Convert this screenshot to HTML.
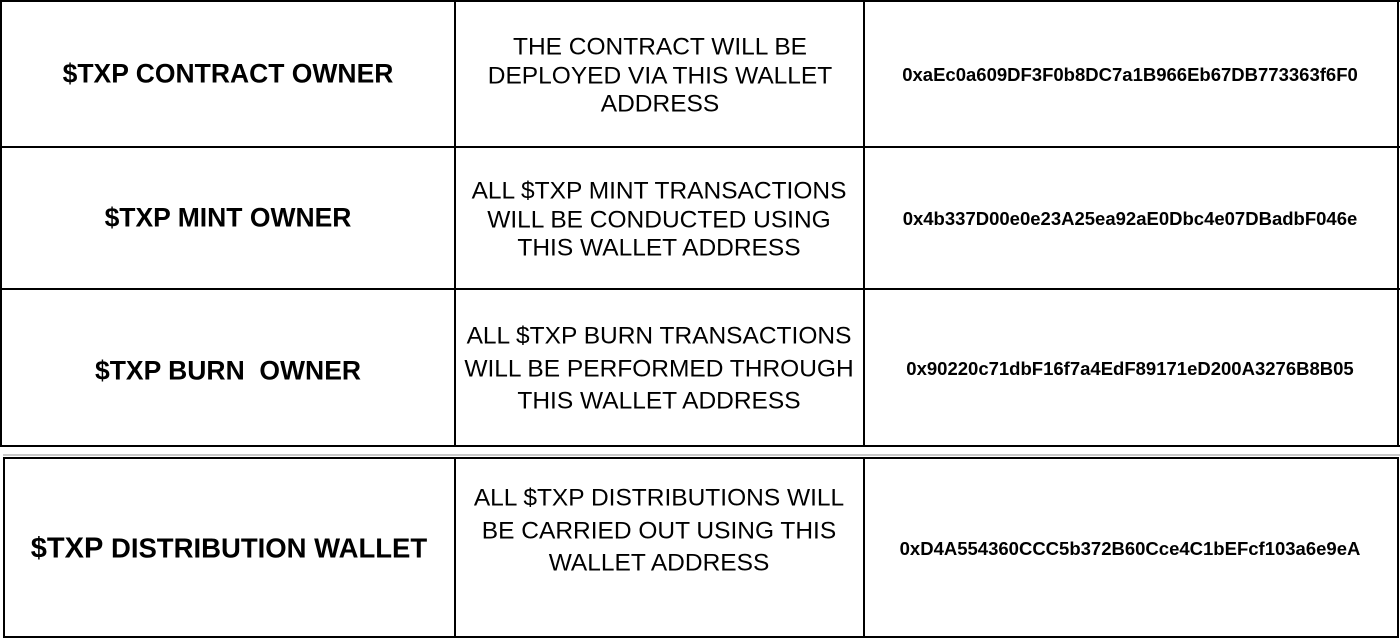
<!DOCTYPE html>
<html><head><meta charset="utf-8"><style>
html,body{margin:0;padding:0;background:#fff;}
body{width:1400px;height:638px;position:relative;overflow:hidden;font-family:"Liberation Sans",Arial,sans-serif;color:#000;}
.l{position:absolute;background:#000;}
.t{position:absolute;transform:translate(-50%,-50%);text-align:center;white-space:nowrap;}
.h{font-weight:bold;font-size:26.5px;}
.m{font-size:24.5px;}
.a{font-weight:bold;font-size:18.5px;}
</style></head><body>
<div class="l" style="left:0;top:0;width:1400px;height:2px"></div>
<div class="l" style="left:0;top:146px;width:1400px;height:2px"></div>
<div class="l" style="left:0;top:288px;width:1400px;height:2px"></div>
<div class="l" style="left:0;top:445px;width:1400px;height:2px"></div>
<div class="l" style="left:0;top:0;width:2px;height:447px"></div>
<div class="l" style="left:454px;top:0;width:2px;height:447px"></div>
<div class="l" style="left:863px;top:0;width:2px;height:447px"></div>
<div class="l" style="left:1397px;top:0;width:2px;height:447px"></div>
<div class="l" style="left:3px;top:454px;width:1397px;height:2px;background:#c8c8c8"></div>
<div class="l" style="left:3px;top:457px;width:1396px;height:2px"></div>
<div class="l" style="left:3px;top:636px;width:1396px;height:2px"></div>
<div class="l" style="left:3px;top:457px;width:2px;height:181px"></div>
<div class="l" style="left:454px;top:457px;width:2px;height:181px"></div>
<div class="l" style="left:863px;top:457px;width:2px;height:181px"></div>
<div class="l" style="left:1397px;top:457px;width:2px;height:181px"></div>

<div class="t h" style="left:228px;top:74px">$TXP CONTRACT OWNER</div>
<div class="t m" style="left:660px;top:76px;line-height:28.5px">THE CONTRACT WILL BE<br>DEPLOYED VIA THIS WALLET<br>ADDRESS</div>
<div class="t a" style="left:1130px;top:75px">0xaEc0a609DF3F0b8DC7a1B966Eb67DB773363f6F0</div>

<div class="t h" style="left:228px;top:218px">$TXP MINT OWNER</div>
<div class="t m" style="left:659px;top:220px;line-height:28.5px">ALL $TXP MINT TRANSACTIONS<br>WILL BE CONDUCTED USING<br>THIS WALLET ADDRESS</div>
<div class="t a" style="left:1130px;top:219px">0x4b337D00e0e23A25ea92aE0Dbc4e07DBadbF046e</div>

<div class="t h" style="left:228px;top:371px">$TXP BURN&nbsp; OWNER</div>
<div class="t m" style="left:659px;top:369px;line-height:32.5px">ALL $TXP BURN TRANSACTIONS<br>WILL BE PERFORMED THROUGH<br>THIS WALLET ADDRESS</div>
<div class="t a" style="left:1130px;top:369px">0x90220c71dbF16f7a4EdF89171eD200A3276B8B05</div>

<div class="t h" style="left:229px;top:549px;font-size:27.5px"><span style="font-size:29px">$TXP</span> DISTRIBUTION WALLET</div>
<div class="t m" style="left:659px;top:531px;line-height:32.5px">ALL $TXP DISTRIBUTIONS WILL<br>BE CARRIED OUT USING THIS<br>WALLET ADDRESS</div>
<div class="t a" style="left:1130px;top:549px">0xD4A554360CCC5b372B60Cce4C1bEFcf103a6e9eA</div>
</body></html>
